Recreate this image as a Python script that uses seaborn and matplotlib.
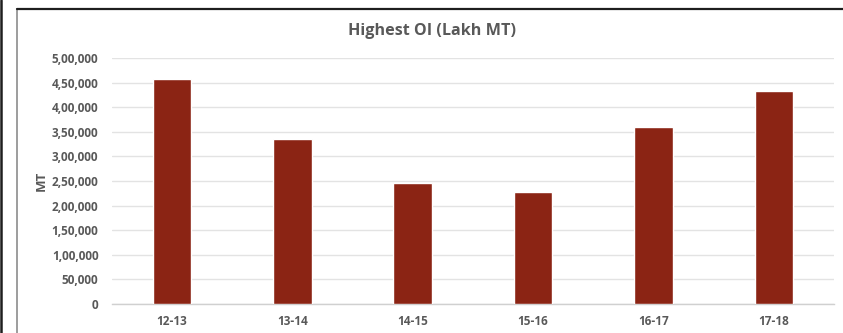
import matplotlib
matplotlib.use("Agg")
import matplotlib.pyplot as plt
from matplotlib.lines import Line2D
from matplotlib.ticker import FuncFormatter
import seaborn as sns
import pandas as pd

categories = ["12-13", "13-14", "14-15", "15-16", "16-17", "17-18"]
values = [457000, 336000, 246000, 228000, 360000, 433000]
yticks = [0, 50000, 100000, 150000, 200000, 250000, 300000, 350000, 400000, 450000, 500000]
title = "Highest OI (Lakh MT)"
ylabel = "MT"

sns.set_theme(style="white")
plt.rcParams['font.family'] = ['Open Sans', 'DejaVu Sans']
plt.rcParams['font.weight'] = 'bold'

df = pd.DataFrame({"year": categories, "oi": values})

fig = plt.figure(figsize=(8.43, 3.33), dpi=100)
ax = fig.add_axes([111.7 / 843, 1 - 304 / 333, (834 - 111.7) / 843, (304 - 58) / 333])

sns.barplot(data=df, x="year", y="oi", color="#8B2414", width=0.32, ax=ax,
            saturation=1, zorder=3)

def indian(v, pos=None):
    v = int(round(v))
    s = str(v)
    if len(s) <= 3:
        return s
    last3 = s[-3:]
    rest = s[:-3]
    parts = []
    while len(rest) > 2:
        parts.insert(0, rest[-2:])
        rest = rest[:-2]
    if rest:
        parts.insert(0, rest)
    return ",".join(parts + [last3])

ax.set_ylim(0, 500000)
ax.set_yticks(yticks)
ax.yaxis.set_major_formatter(FuncFormatter(indian))
ax.grid(axis="y", color="#E3E3E3", linewidth=1.0, zorder=0)
ax.set_axisbelow(True)
for s in ["top", "right", "left"]:
    ax.spines[s].set_visible(False)
ax.spines["bottom"].set_color("#D0D0D0")
ax.spines["bottom"].set_linewidth(1.0)
ax.tick_params(axis="both", length=0, labelsize=8.5, labelcolor="#595959")
ax.tick_params(axis="y", pad=9.5)
ax.tick_params(axis="x", pad=8)
ax.set_xlabel("")
ax.set_ylabel(ylabel, fontsize=9.5, fontweight="bold", color="#595959")
ax.yaxis.set_label_coords(-(111.7 - 48) / (834 - 111.7), 0.5)

fig.text(432 / 843, 1 - 31 / 333, title, ha="center", va="center",
         fontsize=11.6, fontweight="bold", color="#595959")

# chart frame
fig.add_artist(Line2D([17 / 843, 17 / 843], [0, 1 - 9 / 333], transform=fig.transFigure,
                      color="#8C8C8C", linewidth=1.2))
fig.add_artist(Line2D([17 / 843, 1], [1 - 9 / 333, 1 - 9 / 333], transform=fig.transFigure,
                      color="#1E1E1E", linewidth=1.6))
fig.add_artist(Line2D([1 / 843, 1 / 843], [0, 1], transform=fig.transFigure,
                      color="#1E1E1E", linewidth=1.8))

fig.savefig("out.png", dpi=100)
